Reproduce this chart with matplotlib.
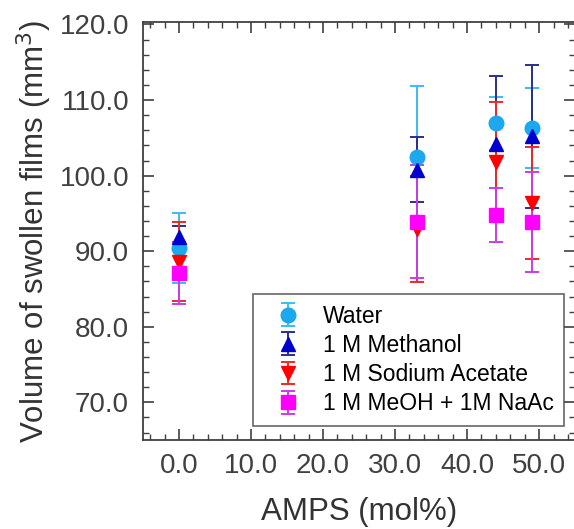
# %%
# Swollen film volume vs AMPS content, 4 solvents
import matplotlib.pyplot as plt
from matplotlib.ticker import MultipleLocator, FormatStrFormatter

plt.rcParams['font.family'] = ['Liberation Sans', 'DejaVu Sans']

# %%
# values
amps = [0, 33, 44, 49]

water = [90.4, 102.5, 106.9, 106.3]
water_err = [4.6, 9.4, 3.5, 5.3]

methanol = [91.9, 100.8, 104.2, 105.2]
methanol_err = [1.5, 4.3, 9.0, 9.5]

naac = [88.6, 92.9, 101.8, 96.4]
naac_err = [5.2, 7.0, 7.9, 7.4]

meoh_naac = [87.1, 93.9, 94.8, 93.9]
meoh_naac_err = [4.1, 7.5, 3.6, 6.6]

labels = ['Water', '1 M Methanol', '1 M Sodium Acetate', '1 M MeOH + 1M NaAc']

# %%
fig = plt.figure(figsize=(5.74, 5.29), dpi=100)
ax = fig.add_axes([0.249, 0.168, 0.753, 0.790])

ax.errorbar(amps, water, yerr=water_err, fmt='o', color='#1BA8EE', ecolor='#3DBBF5',
            markersize=10.5, capsize=5, elinewidth=1.4, capthick=1.4, label=labels[0], zorder=3)
ax.errorbar(amps, methanol, yerr=methanol_err, fmt='^', color='#0000CC', ecolor='#2B2F8A',
            markersize=10.5, capsize=5, elinewidth=1.4, capthick=1.4, label=labels[1], zorder=3)
ax.errorbar(amps, naac, yerr=naac_err, fmt='v', color='#FF0000', ecolor='#EE2A2A',
            markersize=10.5, capsize=5, elinewidth=1.4, capthick=1.4, label=labels[2], zorder=3)
ax.errorbar(amps, meoh_naac, yerr=meoh_naac_err, fmt='s', color='#FF00FF', ecolor='#C83CEB',
            markersize=9.5, capsize=5, elinewidth=1.4, capthick=1.4, label=labels[3], zorder=3)

ax.set_xlim(-5, 55)
ax.set_ylim(65, 120.3)
ax.xaxis.set_major_locator(MultipleLocator(10))
ax.xaxis.set_minor_locator(MultipleLocator(2))
ax.yaxis.set_major_locator(MultipleLocator(10))
ax.yaxis.set_minor_locator(MultipleLocator(2))
ax.xaxis.set_major_formatter(FormatStrFormatter('%.1f'))
ax.yaxis.set_major_formatter(FormatStrFormatter('%.1f'))
ax.set_yticks([70, 80, 90, 100, 110, 120])

ax.tick_params(which='both', direction='in', top=True, right=True, colors='#404040',
               labelsize=20)
ax.tick_params(which='major', length=8, width=1.2)
ax.tick_params(which='minor', length=4, width=1.0)
ax.tick_params(axis='y', pad=10)
ax.tick_params(axis='x', pad=9)
for sp in ax.spines.values():
    sp.set_color('#404040')
    sp.set_linewidth(1.3)

ax.set_xlabel('AMPS (mol%)', fontsize=22.5, color='#333333', labelpad=13)
ax.set_ylabel('Volume of swollen films (mm$^3$)', fontsize=22.5, color='#333333', labelpad=4)

leg = ax.legend(loc='lower right', bbox_to_anchor=(0.975, 0.035), fontsize=16.5,
                frameon=True, fancybox=False, edgecolor='#404040', handletextpad=0.45,
                borderpad=0.45, labelspacing=0.27, handlelength=2.15, borderaxespad=0)
leg.get_frame().set_linewidth(1.2)

fig.savefig('out.png', dpi=100)
